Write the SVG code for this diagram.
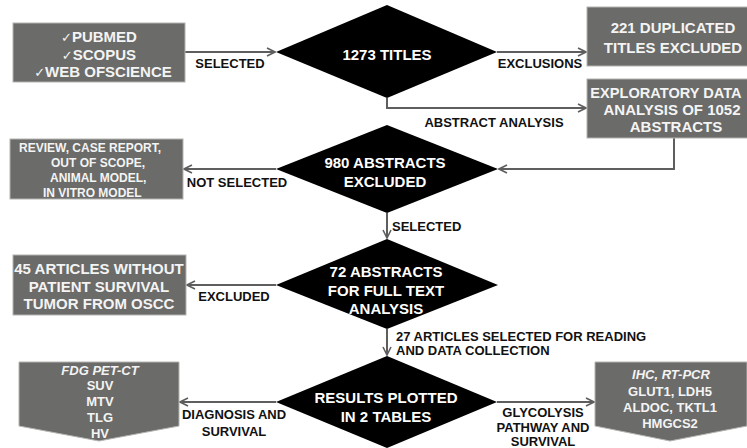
<svg xmlns="http://www.w3.org/2000/svg" width="747" height="448" viewBox="0 0 747 448">
<style>
.box{fill:#6b6b69;stroke:#b4b4b2;stroke-width:1}
.dia{fill:#000}
.bt{font-family:"Liberation Sans",Arial,sans-serif;font-weight:bold;fill:#f4f4f4;text-anchor:middle}
.dt{font-family:"Liberation Sans",Arial,sans-serif;font-weight:bold;fill:#fff;text-anchor:middle;font-size:15px}
.lb{font-family:"Liberation Sans",Arial,sans-serif;font-weight:bold;fill:#111;font-size:13px}
.con{fill:none;stroke:#5e5e5e;stroke-width:2;marker-end:url(#ah)}
.ck{font-family:"DejaVu Sans",sans-serif;font-weight:normal;font-size:13px}
</style>
<defs>
<marker id="ah" viewBox="0 0 10 10" refX="9" refY="5" markerWidth="5" markerHeight="5" orient="auto" markerUnits="strokeWidth">
<path d="M1,1 L9,5 L1,9" fill="none" stroke="#5e5e5e" stroke-width="1.6"/>
</marker>
</defs>
<g id="connectors">
<path class="con" d="M185,52 H275"/>
<path class="con" d="M497,52 H586"/>
<path class="con" d="M387,98 V108 H586"/>
<path class="con" d="M674,138 V169 H499"/>
<path class="con" d="M276,169 H184"/>
<path class="con" d="M387,213 V238"/>
<path class="con" d="M276,285 H187"/>
<path class="con" d="M387,329 V355"/>
<path class="con" d="M276,402 H180"/>
<path class="con" d="M497,402 H594"/>
<text class="lb" x="230" y="68" text-anchor="middle">SELECTED</text>
<text class="lb" x="540" y="68" text-anchor="middle">EXCLUSIONS</text>
<text class="lb" x="494" y="127" text-anchor="middle">ABSTRACT ANALYSIS</text>
<text class="lb" x="237" y="187" text-anchor="middle">NOT SELECTED</text>
<text class="lb" x="392" y="231">SELECTED</text>
<text class="lb" x="234" y="301" text-anchor="middle">EXCLUDED</text>
<text class="lb" x="396" y="341">27 ARTICLES SELECTED FOR READING</text>
<text class="lb" x="396" y="355">AND DATA COLLECTION</text>
<text class="lb" x="234" y="419" text-anchor="middle">DIAGNOSIS AND</text>
<text class="lb" x="234" y="436" text-anchor="middle">SURVIVAL</text>
<text class="lb" x="543" y="417" text-anchor="middle">GLYCOLYSIS</text>
<text class="lb" x="543" y="432" text-anchor="middle">PATHWAY AND</text>
<text class="lb" x="543" y="446" text-anchor="middle">SURVIVAL</text>
</g>
<g id="sources">
<rect class="box" x="13" y="23" width="172" height="59"/>
<text class="bt" font-size="15" x="99" y="42"><tspan class="ck">✓</tspan>PUBMED</text>
<text class="bt" font-size="15" x="99" y="60"><tspan class="ck">✓</tspan>SCOPUS</text>
<text class="bt" font-size="15" x="103" y="77"><tspan class="ck">✓</tspan>WEB OFSCIENCE</text>
</g>
<g id="titles">
<polygon class="dia" points="387,5 497,52 387,98 276,52"/>
<text class="dt" x="387" y="60">1273 TITLES</text>
</g>
<g id="duplicated">
<rect class="box" x="587" y="7" width="172" height="59"/>
<text class="bt" font-size="15" x="673" y="33">221 DUPLICATED</text>
<text class="bt" font-size="15" x="673" y="53">TITLES EXCLUDED</text>
</g>
<g id="exploratory">
<rect class="box" x="587" y="79" width="172" height="59"/>
<text class="bt" font-size="14.6" x="666" y="98">EXPLORATORY DATA</text>
<text class="bt" font-size="15" x="672" y="115">ANALYSIS OF 1052</text>
<text class="bt" font-size="15" x="676" y="132">ABSTRACTS</text>
</g>
<g id="excluded980">
<polygon class="dia" points="387,125 498,169 387,213 276,169"/>
<text class="dt" x="385" y="168">980 ABSTRACTS</text>
<text class="dt" x="385" y="187">EXCLUDED</text>
</g>
<g id="notselected">
<rect class="box" x="10" y="139" width="173" height="60"/>
<text class="bt" font-size="12" style="text-anchor:start" x="19" y="152">REVIEW, CASE REPORT,</text>
<text class="bt" font-size="12" style="text-anchor:start" x="51" y="167">OUT OF SCOPE,</text>
<text class="bt" font-size="12" style="text-anchor:start" x="50" y="182">ANIMAL MODEL,</text>
<text class="bt" font-size="12" style="text-anchor:start" x="43" y="197">IN VITRO MODEL</text>
</g>
<g id="fulltext">
<polygon class="dia" points="387,239 498,285 387,329 276,285"/>
<text class="dt" x="386" y="277">72 ABSTRACTS</text>
<text class="dt" x="386" y="296">FOR FULL TEXT</text>
<text class="dt" x="386" y="314">ANALYSIS</text>
</g>
<g id="without">
<rect class="box" x="13" y="255" width="173" height="60"/>
<text class="bt" font-size="15" x="99" y="274">45 ARTICLES WITHOUT</text>
<text class="bt" font-size="15" x="99" y="292">PATIENT SURVIVAL</text>
<text class="bt" font-size="15" x="99" y="309">TUMOR FROM OSCC</text>
</g>
<g id="results">
<polygon class="dia" points="387,356 497,402 387,448 276,402"/>
<text class="dt" x="386" y="403">RESULTS PLOTTED</text>
<text class="dt" x="386" y="422">IN 2 TABLES</text>
</g>
<g id="petct">
<polygon class="box" points="19,362 179,362 179,426 99,441 19,426"/>
<text class="bt" font-size="13" x="100" y="375" font-style="italic">FDG PET-CT</text>
<text class="bt" font-size="13" x="100" y="390">SUV</text>
<text class="bt" font-size="13" x="100" y="406">MTV</text>
<text class="bt" font-size="13" x="100" y="422">TLG</text>
<text class="bt" font-size="13" x="100" y="438">HV</text>
</g>
<g id="ihc">
<polygon class="box" points="595,362 747,362 747,426 670,441 595,426"/>
<text class="bt" font-size="13" x="671" y="379" font-style="italic">IHC, RT-PCR</text>
<text class="bt" font-size="13" x="670" y="396">GLUT1, LDH5</text>
<text class="bt" font-size="13" x="670" y="412">ALDOC, TKTL1</text>
<text class="bt" font-size="13" x="670" y="428">HMGCS2</text>
</g>
</svg>
